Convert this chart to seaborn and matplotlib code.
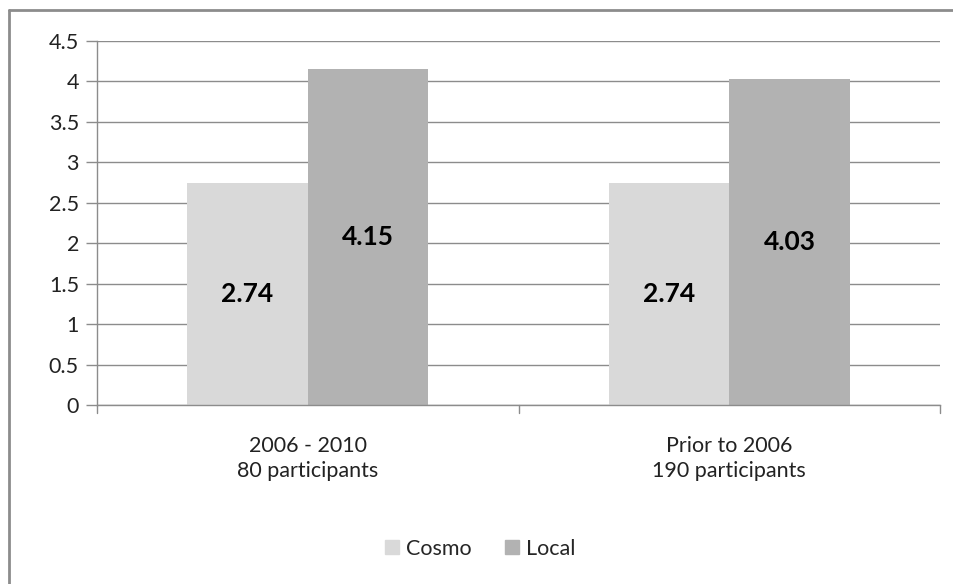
import pandas as pd
import seaborn as sns
import matplotlib.pyplot as plt
from matplotlib.lines import Line2D

periods = ["2006 - 2010\n80 participants", "Prior to 2006\n190 participants"]
groups = ["Cosmo", "Local"]
cosmo = [2.74, 2.74]
local = [4.15, 4.03]
colors = ["#d9d9d9", "#b2b2b2"]

df = pd.DataFrame({
    "period": periods * 2,
    "group": [groups[0]] * 2 + [groups[1]] * 2,
    "value": cosmo + local,
})

sns.set_style("white")
plt.rcParams["font.family"] = ["Lato", "DejaVu Sans"]

fig = plt.figure(figsize=(9.54, 5.84), dpi=100)
ax = fig.add_axes([97 / 954, 1 - 405 / 584, 843 / 954, 364 / 584])

sns.barplot(data=df, x="period", y="value", hue="group", palette=colors,
            width=0.572, saturation=1, ax=ax, legend=False, linewidth=0)

# value labels in the middle of each bar
for container in ax.containers:
    for bar in container:
        h = bar.get_height()
        ax.text(bar.get_x() + bar.get_width() / 2, h / 2, f"{h:.2f}",
                ha="center", va="center", fontsize=19, fontweight="bold",
                color="black")

ax.set_ylim(0, 4.5)
ax.set_xlim(-0.5, 1.5)
ax.set_yticks([i * 0.5 for i in range(10)])
ax.set_yticklabels(["0", "0.5", "1", "1.5", "2", "2.5", "3", "3.5", "4", "4.5"])
ax.yaxis.grid(True, color="#8c8c8c", linewidth=1)
ax.set_axisbelow(True)
ax.set_xlabel("")
ax.set_ylabel("")

for side in ["top", "right"]:
    ax.spines[side].set_visible(False)
for side in ["left", "bottom"]:
    ax.spines[side].set_color("#8c8c8c")
    ax.spines[side].set_linewidth(1)

ax.tick_params(axis="y", left=True, length=8, width=1, color="#8c8c8c",
               labelsize=15.5, pad=5, labelcolor="#222222")
ax.tick_params(axis="x", bottom=False, labelsize=15.5, pad=19,
               labelcolor="#222222")
for lbl in ax.get_xticklabels():
    lbl.set_linespacing(1.3)
# category separator ticks on the x axis
for xb in [-0.5, 0.5, 1.5]:
    ax.plot([xb, xb], [0, -0.1], color="#8c8c8c", lw=1, clip_on=False)

handles = [Line2D([0], [0], marker="s", linestyle="", markersize=10,
                  markerfacecolor=c, markeredgecolor=c) for c in colors]
fig.legend(handles, groups, loc="center", bbox_to_anchor=(0.5, 1 - 549 / 584),
           ncol=2, frameon=False, fontsize=15.5, handletextpad=0.05,
           columnspacing=1.3, handlelength=1.2)

# outer chart border (left and top only, as in the cropped original)
fig.add_artist(Line2D([9.5 / 954, 9.5 / 954], [0, 1 - 9.5 / 584],
                      color="#8c8c8c", lw=2, transform=fig.transFigure))
fig.add_artist(Line2D([9.5 / 954, 1], [1 - 9.5 / 584, 1 - 9.5 / 584],
                      color="#8c8c8c", lw=2, transform=fig.transFigure))

fig.savefig("out.png", dpi=100)
